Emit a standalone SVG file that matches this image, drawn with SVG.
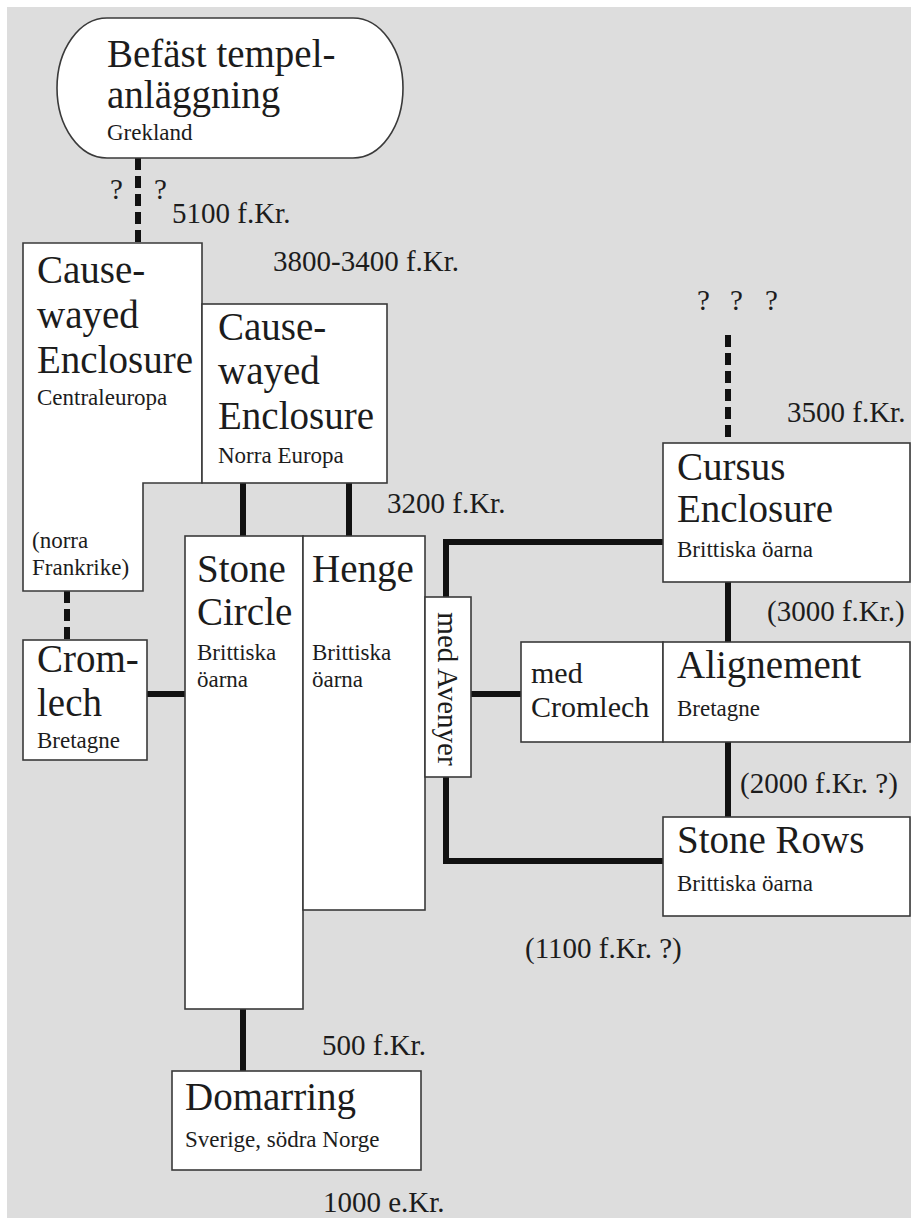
<svg xmlns="http://www.w3.org/2000/svg" width="911" height="1218" viewBox="0 0 911 1218">
<style>
.box{fill:#fff;stroke:#3a3a3a;stroke-width:1.6}
.t{font-family:"Liberation Serif",serif;fill:#1c1c1c}
.h{font-size:39px}
.s{font-size:23px}
.d{font-size:29px}
.m{font-size:30px}
.c{fill:none;stroke:#111;stroke-width:6;stroke-linejoin:miter}
.dash{fill:none;stroke:#111;stroke-width:6;stroke-dasharray:12 6}
</style>
<rect x="0" y="0" width="911" height="1218" fill="#fff"/>
<rect x="7" y="7" width="904" height="1211" fill="#dddddd"/>
<g id="connectors">
<path class="dash" d="M138,158 V243"/>
<path class="dash" d="M67,591 V640"/>
<path class="dash" d="M728,335 V443"/>
<path class="c" d="M243,483 V536"/>
<path class="c" d="M349,483 V536"/>
<path class="c" d="M147,694 H185"/>
<path class="c" d="M471,694 H521"/>
<path class="c" d="M728,582 V642"/>
<path class="c" d="M728,742 V817"/>
<path class="c" d="M243,1009 V1071"/>
<path class="c" d="M663,542 H446 V597"/>
<path class="c" d="M446,777 V861 H663"/>
</g>
<g id="befast">
<rect class="box" x="57" y="18" width="346" height="140" rx="50" ry="70"/>
<text class="t h" x="107" y="67">Befäst tempel-</text>
<text class="t h" x="107" y="108">anläggning</text>
<text class="t s" x="107" y="140">Grekland</text>
</g>
<g id="causeway-central">
<polygon class="box" points="23,243 202,243 202,483 143,483 143,591 23,591"/>
<text class="t h" x="37" y="283">Cause-</text>
<text class="t h" x="37" y="328">wayed</text>
<text class="t h" x="37" y="373">Enclosure</text>
<text class="t s" x="37" y="405">Centraleuropa</text>
<text class="t s" x="32" y="548">(norra</text>
<text class="t s" x="32" y="575">Frankrike)</text>
</g>
<g id="causeway-norra">
<rect class="box" x="202" y="304" width="185" height="179"/>
<text class="t h" x="218" y="340">Cause-</text>
<text class="t h" x="218" y="384">wayed</text>
<text class="t h" x="218" y="429">Enclosure</text>
<text class="t s" x="218" y="463">Norra Europa</text>
</g>
<g id="stonecircle">
<rect class="box" x="185" y="536" width="118" height="473"/>
<text class="t h" x="197" y="582">Stone</text>
<text class="t h" x="197" y="625">Circle</text>
<text class="t s" x="197" y="660">Brittiska</text>
<text class="t s" x="197" y="687">öarna</text>
</g>
<g id="henge">
<rect class="box" x="303" y="536" width="122" height="374"/>
<text class="t h" x="312" y="582">Henge</text>
<text class="t s" x="312" y="660">Brittiska</text>
<text class="t s" x="312" y="687">öarna</text>
</g>
<g id="cromlech">
<rect class="box" x="23" y="640" width="124" height="120"/>
<text class="t h" x="37" y="672">Crom-</text>
<text class="t h" x="37" y="716">lech</text>
<text class="t s" x="37" y="748">Bretagne</text>
</g>
<g id="avenyer">
<rect class="box" x="425" y="597" width="46" height="180"/>
<text class="t" font-size="29" text-anchor="middle" transform="translate(438,689) rotate(90)">med Avenyer</text>
</g>
<g id="medcromlech">
<rect class="box" x="521" y="642" width="142" height="100"/>
<text class="t m" x="531" y="683">med</text>
<text class="t m" x="531" y="717">Cromlech</text>
</g>
<g id="alignement">
<rect class="box" x="663" y="642" width="247" height="100"/>
<text class="t h" x="677" y="678">Alignement</text>
<text class="t s" x="677" y="716">Bretagne</text>
</g>
<g id="cursus">
<rect class="box" x="663" y="443" width="247" height="139"/>
<text class="t h" x="677" y="480">Cursus</text>
<text class="t h" x="677" y="522">Enclosure</text>
<text class="t s" x="677" y="557">Brittiska öarna</text>
</g>
<g id="stonerows">
<rect class="box" x="663" y="817" width="247" height="99"/>
<text class="t h" x="677" y="853">Stone Rows</text>
<text class="t s" x="677" y="891">Brittiska öarna</text>
</g>
<g id="domarring">
<rect class="box" x="172" y="1071" width="249" height="99"/>
<text class="t h" x="185" y="1110">Domarring</text>
<text class="t s" x="185" y="1147">Sverige, södra Norge</text>
</g>
<g id="labels">
<text class="t d" x="110" y="199">?</text>
<text class="t d" x="154" y="199">?</text>
<text class="t d" x="172" y="223">5100 f.Kr.</text>
<text class="t d" x="273" y="271">3800-3400 f.Kr.</text>
<text class="t d" x="697" y="310">?</text>
<text class="t d" x="730" y="310">?</text>
<text class="t d" x="765" y="310">?</text>
<text class="t d" x="787" y="422">3500 f.Kr.</text>
<text class="t d" x="387" y="513">3200 f.Kr.</text>
<text class="t d" x="767" y="621">(3000 f.Kr.)</text>
<text class="t d" x="740" y="793">(2000 f.Kr. ?)</text>
<text class="t d" x="525" y="958">(1100 f.Kr. ?)</text>
<text class="t d" x="322" y="1055">500 f.Kr.</text>
<text class="t d" x="323" y="1212">1000 e.Kr.</text>
</g>
</svg>
